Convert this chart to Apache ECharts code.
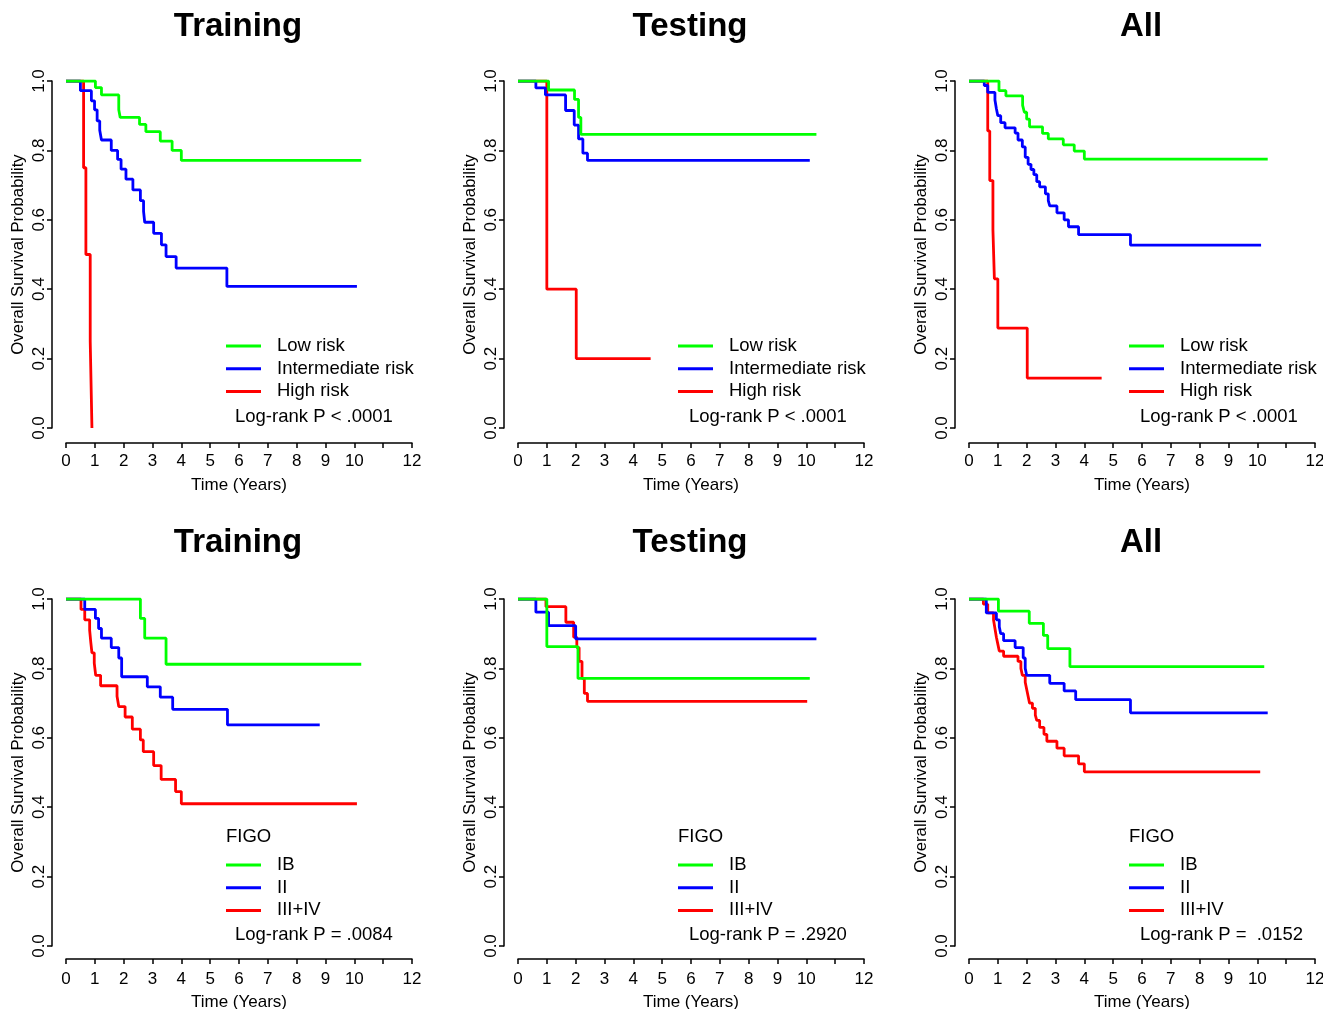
<!DOCTYPE html>
<html lang="en">
<head>
    <meta charset="UTF-8">
    <title>Kaplan-Meier</title>
    <style>
        *{
            margin: 0;
            padding: 0;
        }
        #main{
            width: 1323px;
            height: 1009px;
            background: #FFFFFF;
        }
    </style>
</head>
<body>
<div id="main"></div>
<script src="https://cdn.jsdelivr.net/npm/echarts@6/dist/echarts.min.js"></script>
<script>
    // [time, survival] steps
    let trainLow = [[0,1],[1.02,0.981],[1.23,0.960],[1.83,0.917],[1.88,0.895],[2.55,0.875],[2.77,0.854],[3.27,0.827],[3.68,0.800],[4.0,0.771],[10.24,0.771]];
    let trainMid = [[0,1],[0.50,0.972],[0.88,0.943],[0.99,0.917],[1.08,0.885],[1.17,0.858],[1.23,0.830],[1.57,0.800],[1.79,0.774],[1.91,0.746],[2.08,0.717],[2.32,0.686],[2.58,0.655],[2.69,0.624],[2.73,0.593],[3.04,0.561],[3.31,0.528],[3.47,0.494],[3.82,0.461],[5.58,0.408],[10.09,0.408]];
    let trainHigh = [[0,1],[0.61,0.75],[0.69,0.50],[0.84,0.25],[0.90,0.0]];

    let testLow = [[0,1],[1.06,0.974],[1.96,0.947],[2.10,0.895],[2.18,0.846],[10.35,0.846]];
    let testMid = [[0,1],[0.62,0.980],[0.95,0.960],[1.65,0.915],[1.95,0.873],[2.10,0.833],[2.25,0.792],[2.41,0.771],[10.12,0.771]];
    let testHigh = [[0,1],[1.0,0.40],[2.02,0.20],[4.60,0.20]];

    let allLow = [[0,1],[1.04,0.972],[1.28,0.957],[1.86,0.930],[1.92,0.910],[2.0,0.890],[2.1,0.868],[2.55,0.849],[2.75,0.833],[3.27,0.816],[3.65,0.798],[4.0,0.775],[10.36,0.775]];
    let allMid = [[0,1],[0.53,0.987],[0.65,0.967],[0.90,0.945],[0.95,0.920],[1.0,0.900],[1.1,0.880],[1.25,0.865],[1.6,0.850],[1.7,0.830],[1.85,0.810],[1.95,0.780],[2.05,0.760],[2.15,0.745],[2.25,0.730],[2.35,0.710],[2.45,0.695],[2.65,0.675],[2.75,0.655],[2.8,0.640],[3.05,0.620],[3.3,0.600],[3.45,0.580],[3.8,0.557],[5.6,0.527],[10.13,0.527]];
    let allHigh = [[0,1],[0.65,0.856],[0.72,0.713],[0.83,0.571],[0.88,0.430],[1.0,0.288],[2.02,0.144],[4.6,0.144]];

    let trainIB = [[0,1],[2.58,0.944],[2.73,0.887],[3.47,0.812],[10.24,0.812]];
    let trainII = [[0,1],[0.65,0.970],[1.02,0.944],[1.13,0.915],[1.23,0.887],[1.57,0.860],[1.83,0.830],[1.93,0.776],[2.82,0.747],[3.27,0.717],[3.7,0.682],[5.6,0.637],[8.80,0.637]];
    let trainIII = [[0,1],[0.52,0.970],[0.65,0.940],[0.82,0.910],[0.86,0.875],[0.90,0.845],[0.98,0.815],[1.03,0.780],[1.2,0.750],[1.77,0.720],[1.83,0.690],[2.05,0.660],[2.3,0.625],[2.58,0.594],[2.68,0.560],[3.04,0.520],[3.3,0.480],[3.8,0.445],[4.0,0.410],[10.09,0.410]];

    let testIB = [[0,1],[1.0,0.863],[2.08,0.771],[10.12,0.771]];
    let testII = [[0,1],[0.62,0.962],[1.06,0.923],[2.0,0.885],[10.35,0.885]];
    let testIII = [[0,1],[0.97,0.978],[1.66,0.933],[1.93,0.890],[2.04,0.860],[2.12,0.820],[2.22,0.771],[2.30,0.728],[2.41,0.705],[10.03,0.705]];

    let allIB = [[0,1],[1.02,0.965],[2.09,0.930],[2.58,0.895],[2.73,0.857],[3.5,0.805],[10.24,0.805]];
    let allII = [[0,1],[0.6,0.960],[0.95,0.940],[1.05,0.920],[1.1,0.900],[1.2,0.880],[1.6,0.860],[1.88,0.830],[1.95,0.800],[2.0,0.780],[2.8,0.757],[3.3,0.735],[3.7,0.710],[5.6,0.672],[10.36,0.672]];
    let allIII = [[0,1],[0.5,0.985],[0.65,0.960],[0.85,0.940],[0.9,0.915],[0.95,0.890],[1.0,0.870],[1.05,0.850],[1.2,0.835],[1.7,0.820],[1.8,0.800],[1.85,0.780],[1.95,0.760],[2.0,0.740],[2.05,0.720],[2.1,0.700],[2.2,0.685],[2.3,0.665],[2.35,0.650],[2.45,0.630],[2.6,0.610],[2.7,0.590],[3.05,0.570],[3.3,0.548],[3.8,0.525],[4.0,0.502],[10.1,0.502]];

    let riskNames = ['Low risk', 'Intermediate risk', 'High risk'];
    let figoNames = ['IB', 'II', 'III+IV'];
    let colors = ['#00FF00', '#0000FF', '#FF0000'];
    let titles = ['Training', 'Testing', 'All'];
    let pValues = ['Log-rank P < .0001', 'Log-rank P < .0001', 'Log-rank P < .0001',
                   'Log-rank P = .0084', 'Log-rank P = .2920', 'Log-rank P =  .0152'];

    let panelData = [
        [trainLow, trainMid, trainHigh],
        [testLow, testMid, testHigh],
        [allLow, allMid, allHigh],
        [trainIB, trainII, trainIII],
        [testIB, testII, testIII],
        [allIB, allII, allIII]
    ];

    let font = '"Liberation Sans", Arial, Helvetica, sans-serif';
    let colLeft = [66, 518, 969];
    let rowTop = [81, 599];
    let plotW = 346, plotH = 347;

    let grids = [], xAxes = [], yAxes = [], series = [], legends = [], texts = [];
    for(let p = 0; p < 6; p++){
        let r = Math.floor(p / 3), c = p % 3;
        let left = colLeft[c], top = rowTop[r];
        grids.push({left: left, top: top, width: plotW, height: plotH, outerBoundsMode: 'none', containLabel: false});
        xAxes.push({
            gridIndex: p, type: 'value', min: 0, max: 12, interval: 1,
            offset: r === 0 ? 15 : 13,
            name: 'Time (Years)', nameLocation: 'middle', nameGap: r === 0 ? 34 : 35,
            nameTextStyle: {fontFamily: font, fontSize: 17, color: '#000'},
            axisLine: {onZero: false, lineStyle: {color: '#000', width: 1.5}},
            axisTick: {length: 5, lineStyle: {color: '#000', width: 1.5}},
            axisLabel: {
                fontFamily: font, fontSize: 17, color: '#000', margin: r === 0 ? 10 : 12,
                showMaxLabel: true,
                formatter: function(v){ return v === 11 ? '' : v; }
            },
            splitLine: {show: false}
        });
        yAxes.push({
            gridIndex: p, type: 'value', min: 0, max: 1, interval: 0.2,
            offset: 14,
            name: 'Overall Survival Probability', nameLocation: 'middle', nameGap: 25,
            nameTextStyle: {fontFamily: font, fontSize: 16.8, color: '#000'},
            axisLine: {onZero: false, lineStyle: {color: '#000', width: 1.5}},
            axisTick: {length: 5, lineStyle: {color: '#000', width: 1.5}},
            axisLabel: {
                fontFamily: font, fontSize: 17, color: '#000', rotate: 90, margin: 4,
                formatter: function(v){ return v.toFixed(1); }
            },
            splitLine: {show: false}
        });
        let names = r === 0 ? riskNames : figoNames;
        for(let k = 0; k < 3; k++){
            series.push({
                name: names[k], type: 'line', step: 'end',
                xAxisIndex: p, yAxisIndex: p,
                data: panelData[p][k],
                symbol: 'none', silent: true,
                lineStyle: {color: colors[k], width: 2.8},
                itemStyle: {color: colors[k]},
                z: 3 - k
            });
        }
        legends.push({
            data: names, orient: 'vertical',
            left: left + 160, top: top + (r === 0 ? 255 : 256),
            padding: 0, itemGap: 2.7,
            icon: 'rect', itemWidth: 35, itemHeight: 3,
            selectedMode: false,
            textStyle: {fontFamily: font, fontSize: 18.5, color: '#000', lineHeight: 20, padding: [0, 0, 0, 11]}
        });
        texts.push({
            type: 'text', left: left + 169 + (c === 0 ? 0 : 2), top: top + 326,
            style: {text: pValues[p], font: '18.5px ' + font, fill: '#000'}
        });
        if(r === 1){
            texts.push({
                type: 'text', left: left + 160, top: top + 228,
                style: {text: 'FIGO', font: '18.5px ' + font, fill: '#000'}
            });
        }
        texts.push({
            type: 'text', x: left + 172, y: (r === 0 ? 27 : 543),
            style: {text: titles[c], font: 'bold 33px ' + font, fill: '#000', align: 'center', verticalAlign: 'middle'}
        });
    }

    let myChart = echarts.init(document.getElementById('main'));
    myChart.setOption({
        backgroundColor: '#FFFFFF',
        animation: false,
        grid: grids,
        xAxis: xAxes,
        yAxis: yAxes,
        legend: legends,
        series: series,
        graphic: texts
    });
</script>
</body>
</html>
